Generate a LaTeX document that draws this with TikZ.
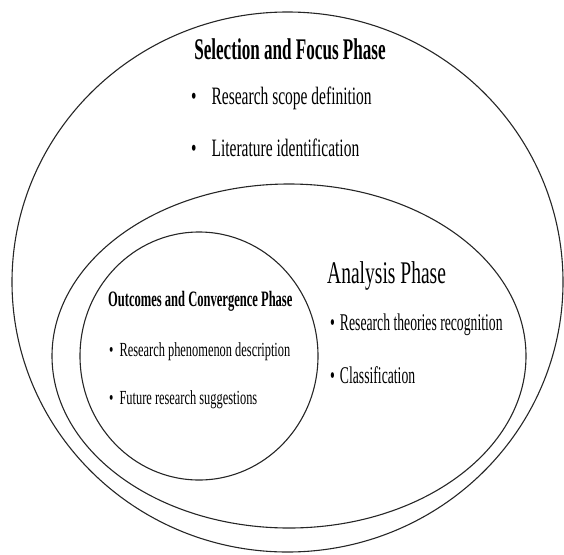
\documentclass[tikz,border=0pt]{standalone}
\usepackage{fontspec}
\setmainfont{Liberation Serif}
\newfontfamily\narrowfont[FakeStretch=0.62]{Liberation Serif}
\newfontfamily\tightfont[FakeStretch=0.57]{Liberation Serif}
\usetikzlibrary{shapes.geometric,positioning}
\tikzset{
  phase/.style={ellipse, draw=black!85, line width=1.1pt, inner sep=0pt},
  headbig/.style={font=\tightfont\bfseries\fontsize{30}{34}\selectfont, inner sep=0pt},
  headmid/.style={font=\narrowfont\fontsize{31.5}{35}\selectfont, inner sep=0pt, anchor=west},
  headsmall/.style={font=\tightfont\bfseries\fontsize{22}{25}\selectfont, inner sep=0pt, anchor=west},
  itembig/.style={font=\narrowfont\fontsize{25}{28}\selectfont, inner sep=0pt, anchor=west},
  itemmid/.style={font=\tightfont\fontsize{24}{28}\selectfont, inner sep=0pt, anchor=west},
  itemsmall/.style={font=\narrowfont\fontsize{20}{24}\selectfont, inner sep=0pt, anchor=west},
}
\begin{document}
\begin{tikzpicture}[x=1pt, y=-1pt]
  \useasboundingbox (0,0) rectangle (564,554);
  % the three phases
  \node[phase, minimum width=551pt, minimum height=540pt] (sel) at (287.5,282) {};
  \node[phase, minimum width=474pt, minimum height=344pt] (ana) at (289,356) {};
  \node[phase, minimum width=238pt, minimum height=248pt] (out) at (199,356) {};

  % selection and focus
  \node[headbig] (selhead) at (290,49) {Selection and Focus Phase};
  \node[itembig] (sel1) at (191,98) {\textbullet\hspace{15pt}Research scope definition};
  \node[itembig] (sel2) at (191,148) {\textbullet\hspace{15pt}Literature identification};

  % analysis
  \node[headmid] (anahead) at (327,276) {Analysis Phase};
  \node[itemmid] (ana1) at (330,325) {\textbullet\hspace{5pt}Research theories recognition};
  \node[itemmid] (ana2) at (330,375) {\textbullet\hspace{5pt}Classification};

  % outcomes and convergence
  \node[headsmall] (outhead) at (108,301) {Outcomes and Convergence Phase};
  \node[itemsmall] (out1) at (109,352) {\textbullet\hspace{6pt}Research phenomenon description};
  \node[itemsmall] (out2) at (109,400) {\textbullet\hspace{6pt}Future research suggestions};
\end{tikzpicture}
\end{document}
